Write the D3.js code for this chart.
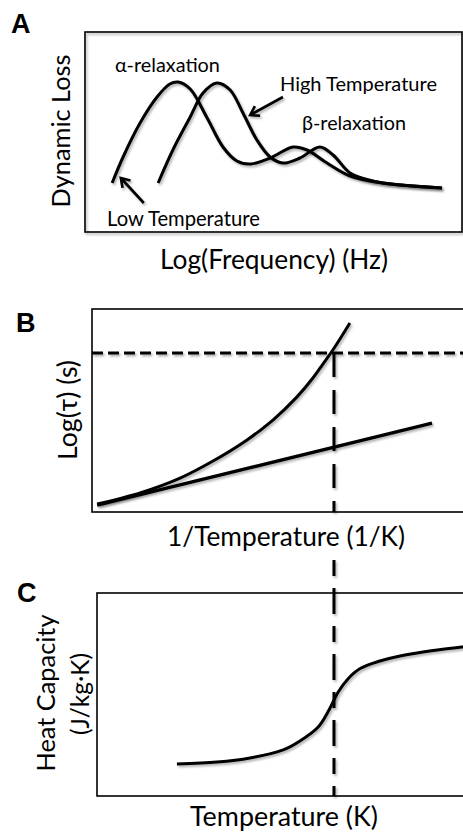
<!DOCTYPE html>
<html>
<head>
<meta charset="utf-8">
<script src="https://cdn.jsdelivr.net/npm/d3@7"></script>
<style>
  html, body { margin: 0; padding: 0; background: #fff; }
  svg { display: block; }
</style>
</head>
<body>
<svg id="chart" width="463" height="835"></svg>
<script>
// ---------- DATA (abstract units 0-100 on each axis) ----------
// Panel A: dynamic loss vs log(frequency)
const lowTempCurve = [
  [7.2, 24.5], [10.1, 37.5], [14.6, 54.5], [19.1, 67.5], [22.5, 74], [24.7, 75],
  [27.9, 71.5], [32.4, 57], [36.6, 42.5], [40.3, 35.5], [43.8, 34], [49.1, 37],
  [55.2, 42.5], [58.9, 41], [64.2, 34.5], [70.3, 28], [79.0, 24.5], [94.7, 22]
];
const highTempCurve = [
  [19.4, 24.5], [23.3, 41], [27.9, 57.5], [31.3, 69.5], [35.0, 74.5], [38.5, 71],
  [41.9, 59.5], [45.6, 46], [49.1, 37.5], [52.5, 34.5], [57.0, 37], [62.3, 42.5],
  [65.8, 38.5], [70.3, 29.5], [74.3, 26.5], [79.0, 24.5], [94.7, 22]
];
const highTempArrow = [[52.5, 67.5], [43.8, 58.5]];
const lowTempArrow = [[15.6, 14.5], [9.5, 27]];
const annotationLabels = ["α-relaxation", "High Temperature", "β-relaxation", "Low Temperature"];

// Panel B: log(tau) vs 1/T
const vftCurve = [
  [1.4, 3.9], [13.0, 9.4], [23.8, 16.7], [32.7, 25.1], [41.9, 35.5], [48.9, 45.3],
  [55.4, 56.7], [59.7, 66.0], [62.4, 72.9], [65.1, 79.8], [69.7, 93.1]
];
const arrheniusLine = [[1.4, 3.4], [91.9, 43.8]];
const glassTau = 78.3;      // dashed horizontal level (B)
const glassInvT = 65.4;     // dashed vertical (B), maps to Tg in C

// Panel C: heat capacity vs temperature
const heatCapCurve = [
  [21.9, 15.8], [32.9, 16.7], [41.9, 18.7], [51.0, 22.7], [55.6, 27.1], [60.6, 34.0],
  [63.6, 42.5], [66.0, 51.0], [68.8, 57.8], [72.1, 62.8], [77.5, 66.5], [83.0, 69.0],
  [92.1, 71.7], [100, 73.4], [103, 74.0]
];

const panelLetters = ["A", "B", "C"];
const xTitles = ["Log(Frequency) (Hz)", "1/Temperature (1/K)", "Temperature (K)"];
const yTitles = [["Dynamic Loss"], ["Log(τ) (s)"], ["Heat Capacity", "(J/kg·K)"]];

// ---------- DRAWING ----------
const svg = d3.select("#chart");
const FONT = "Lato, 'Open Sans', 'DejaVu Sans', sans-serif";

const defs = svg.append("defs");
const f = defs.append("filter").attr("id", "shadow")
  .attr("filterUnits", "userSpaceOnUse")
  .attr("x", 0).attr("y", 0).attr("width", 463).attr("height", 835);
f.append("feDropShadow").attr("dx", 1.5).attr("dy", 2).attr("stdDeviation", 1.2)
  .attr("flood-color", "#000").attr("flood-opacity", 0.3);

function fitText(sel, w) {
  const len = sel.node().getComputedTextLength();
  const fs = parseFloat(sel.attr("font-size"));
  sel.attr("font-size", (fs * w / len).toFixed(2));
  return sel;
}
function addText(g, str, x, y, size, width, anchor, rotate) {
  const t = g.append("text").text(str)
    .attr("font-family", FONT).attr("font-size", size)
    .attr("fill", "#000").attr("text-anchor", anchor || "start");
  if (rotate) {
    t.attr("transform", `translate(${x},${y}) rotate(-90)`);
  } else {
    t.attr("x", x).attr("y", y);
  }
  if (width) fitText(t, width);
  return t;
}

const line = (xs, ys) => d3.line().x(d => xs(d[0])).y(d => ys(d[1]))
  .curve(d3.curveCatmullRom.alpha(0.5));

function drawArrow(g, pts, xs, ys) {
  const [x1, y1] = [xs(pts[0][0]), ys(pts[0][1])];
  const [x2, y2] = [xs(pts[1][0]), ys(pts[1][1])];
  const a = Math.atan2(y2 - y1, x2 - x1);
  const L = 10, sp = Math.PI / 5.5;
  const p = d3.path();
  p.moveTo(x1, y1); p.lineTo(x2, y2);
  p.moveTo(x2 - L * Math.cos(a - sp), y2 - L * Math.sin(a - sp));
  p.lineTo(x2, y2);
  p.lineTo(x2 - L * Math.cos(a + sp), y2 - L * Math.sin(a + sp));
  g.append("path").attr("d", p.toString()).attr("fill", "none")
    .attr("stroke", "#000").attr("stroke-width", 2.6)
    .attr("stroke-linejoin", "miter").attr("filter", "url(#shadow)");
}

function panelLetter(str, x, y) {
  svg.append("text").text(str).attr("x", x).attr("y", y)
    .attr("font-family", "'Liberation Sans', Arial, sans-serif")
    .attr("font-weight", "bold").attr("font-size", 27).attr("fill", "#000");
}

// ----- Panel A -----
const xA = d3.scaleLinear([0, 100], [85, 462]);
const yA = d3.scaleLinear([0, 100], [232, 32]);
const gA = svg.append("g");
gA.append("rect").attr("x", xA(0)).attr("y", yA(100))
  .attr("width", xA(100) - xA(0)).attr("height", yA(0) - yA(100))
  .attr("fill", "none").attr("stroke", "#000").attr("stroke-width", 1.6)
  .attr("filter", "url(#shadow)");
[lowTempCurve, highTempCurve].forEach(c => {
  gA.append("path").datum(c).attr("d", line(xA, yA))
    .attr("fill", "none").attr("stroke", "#000").attr("stroke-width", 3)
    .attr("stroke-linecap", "butt").attr("filter", "url(#shadow)");
});
drawArrow(gA, highTempArrow, xA, yA);
drawArrow(gA, lowTempArrow, xA, yA);
addText(gA, annotationLabels[0], 115, 72, 16, 105);
addText(gA, annotationLabels[1], 280, 91, 16, 157);
addText(gA, annotationLabels[2], 302, 130, 16, 104);
addText(gA, annotationLabels[3], 107, 226, 16, 153);
addText(gA, xTitles[0], 274, 269, 24, 228, "middle");
addText(gA, yTitles[0][0], 70, 131, 24, 153, "middle", true);
panelLetter(panelLetters[0], 11, 33);

// ----- Panel B -----
const xB = d3.scaleLinear([0, 100], [92, 462]);
const yB = d3.scaleLinear([0, 100], [512, 309]);
const gB = svg.append("g");
gB.append("rect").attr("x", xB(0)).attr("y", yB(100))
  .attr("width", 420).attr("height", yB(0) - yB(100))
  .attr("fill", "none").attr("stroke", "#000").attr("stroke-width", 1.6);
gB.append("line").attr("x1", xB(0)).attr("x2", 470)
  .attr("y1", yB(glassTau)).attr("y2", yB(glassTau))
  .attr("stroke", "#000").attr("stroke-width", 3).attr("stroke-dasharray", "11,5")
  .attr("filter", "url(#shadow)");
gB.append("path").datum(arrheniusLine).attr("d", line(xB, yB))
  .attr("fill", "none").attr("stroke", "#000").attr("stroke-width", 3.4)
  .attr("filter", "url(#shadow)");
gB.append("path").datum(vftCurve).attr("d", line(xB, yB))
  .attr("fill", "none").attr("stroke", "#000").attr("stroke-width", 3)
  .attr("filter", "url(#shadow)");
addText(gB, xTitles[1], 286, 546, 24, 238, "middle");
addText(gB, yTitles[1][0], 77, 410, 24, 100, "middle", true);
panelLetter(panelLetters[1], 16, 332);

// ----- Panel C -----
const xC = d3.scaleLinear([0, 100], [97, 462]);
const yC = d3.scaleLinear([0, 100], [796, 593]);
const gC = svg.append("g");
gC.append("rect").attr("x", xC(0)).attr("y", yC(100))
  .attr("width", 420).attr("height", yC(0) - yC(100))
  .attr("fill", "none").attr("stroke", "#000").attr("stroke-width", 1.6);
gC.append("path").datum(heatCapCurve).attr("d", line(xC, yC))
  .attr("fill", "none").attr("stroke", "#000").attr("stroke-width", 3)
  .attr("filter", "url(#shadow)");
addText(gC, xTitles[2], 284, 826, 24, 188, "middle");
addText(gC, yTitles[2][0], 55, 693, 24, 157, "middle", true);
addText(gC, yTitles[2][1], 89, 694, 24, 82, "middle", true);
panelLetter(panelLetters[2], 17, 602);

// ----- Vertical dashed Tg line linking B and C -----
const vx = xB(glassInvT);
svg.append("line").attr("x1", vx).attr("x2", vx)
  .attr("y1", yB(glassTau)).attr("y2", yB(0))
  .attr("stroke", "#000").attr("stroke-width", 3).attr("stroke-dasharray", "24,13")
  .attr("filter", "url(#shadow)");
svg.append("line").attr("x1", vx).attr("x2", vx)
  .attr("y1", 560).attr("y2", yC(0))
  .attr("stroke", "#000").attr("stroke-width", 3).attr("stroke-dasharray", "16,12,26,12")
  .attr("filter", "url(#shadow)");
</script>
</body>
</html>
